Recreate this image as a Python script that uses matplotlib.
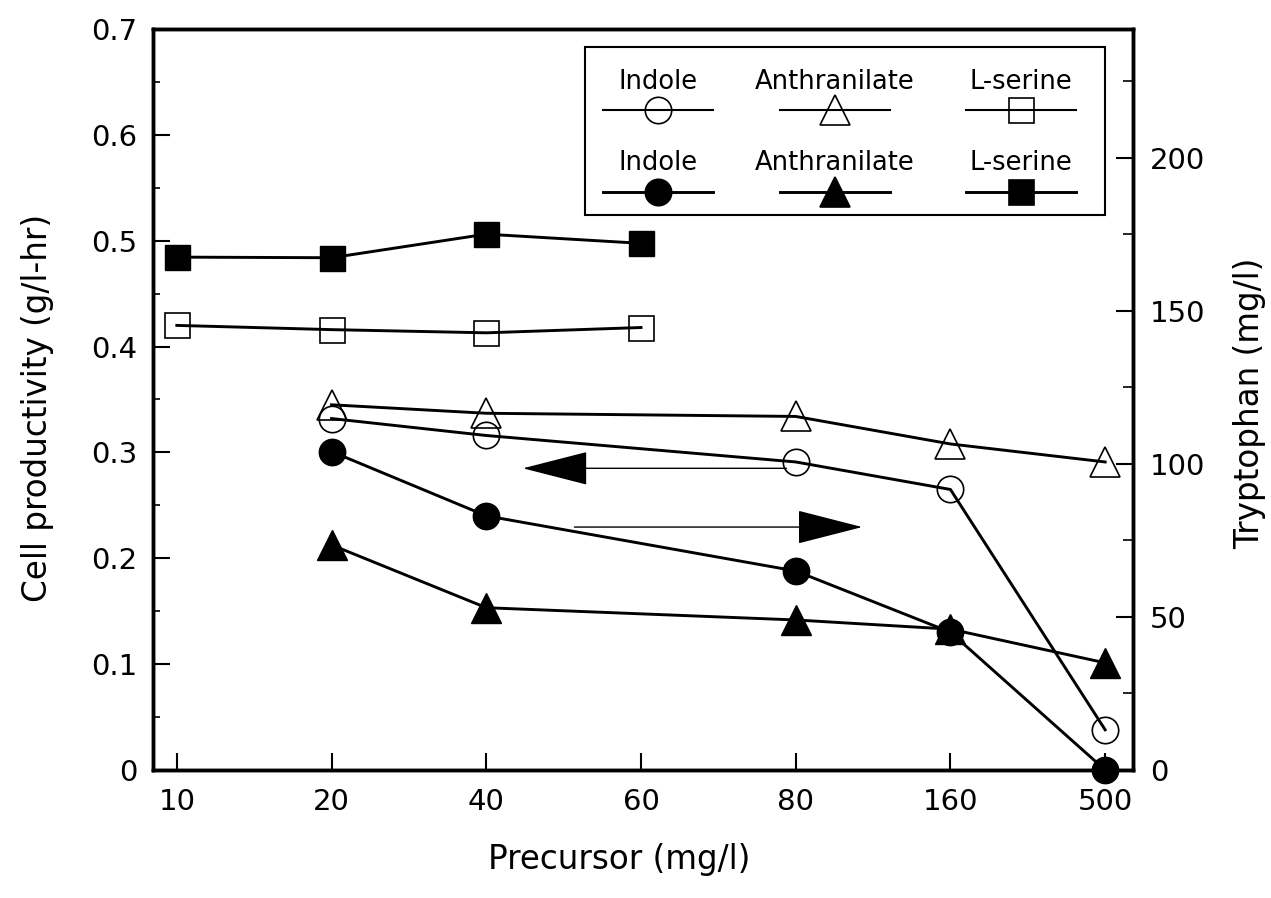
import matplotlib
matplotlib.use("Agg")
import matplotlib.pyplot as plt
from matplotlib.lines import Line2D
from matplotlib.patches import Rectangle
from matplotlib.ticker import MultipleLocator, FuncFormatter

# -- datos
x_labels = ["10", "20", "40", "60", "80", "160", "500"]

conc_ind_anth = ["20", "40", "80", "160", "500"]
conc_serine = ["10", "20", "40", "60"]

# productividad celular (g/l-hr) -> simbolos abiertos, eje izquierdo
indole_cell = [0.332, 0.316, 0.291, 0.265, 0.038]
anthranilate_cell = [0.345, 0.337, 0.334, 0.308, 0.291]
serine_cell = [0.420, 0.416, 0.413, 0.418]

# triptofano (mg/l) -> simbolos llenos, eje derecho
indole_trp = [104, 83, 65, 45, 0]
anthranilate_trp = [73.5, 53, 49, 46, 35]
serine_trp = [167.5, 167.3, 175, 172]

W, H = 1271, 898


def fx(px):
    return px / W


def fy(py):
    return 1 - py / H


plt.rcParams['font.family'] = ['DejaVu Sans']

fig = plt.figure(figsize=(W / 100, H / 100), dpi=100)
ax = fig.add_axes([fx(153), fy(770), fx(1133) - fx(153), fy(29) - fy(770)])
ax2 = ax.twinx()

pos = {lab: i for i, lab in enumerate(x_labels)}
x_ia = [pos[c] for c in conc_ind_anth]
x_se = [pos[c] for c in conc_serine]

lw = 2.1
# abiertos
ax.plot(x_ia, indole_cell, color='black', lw=lw, marker='o', ms=19, mfc='none', mec='black', mew=1.2, clip_on=False)
ax.plot(x_ia, anthranilate_cell, color='black', lw=lw, marker='^', ms=22, mfc='none', mec='black', mew=1.2, clip_on=False)
ax.plot(x_se, serine_cell, color='black', lw=lw, marker='s', ms=18, mfc='none', mec='black', mew=1.2, clip_on=False)
# llenos
ax2.plot(x_ia, indole_trp, color='black', lw=lw, marker='o', ms=19, mfc='black', mec='black', clip_on=False)
ax2.plot(x_ia, anthranilate_trp, color='black', lw=lw, marker='^', ms=22, mfc='black', mec='black', clip_on=False)
ax2.plot(x_se, serine_trp, color='black', lw=lw, marker='s', ms=18, mfc='black', mec='black', clip_on=False)

ax.set_xlim(-0.154, 6.18)
ax.set_ylim(0, 0.7)
ax2.set_ylim(0, 242)

ax.set_xticks(range(len(x_labels)))
ax.set_xticklabels(x_labels)
ax.yaxis.set_major_locator(MultipleLocator(0.1))
ax.yaxis.set_minor_locator(MultipleLocator(0.05))
ax.yaxis.set_major_formatter(FuncFormatter(lambda v, p: "0" if abs(v) < 1e-9 else f"{v:.1f}"))
ax2.yaxis.set_major_locator(MultipleLocator(50))
ax2.yaxis.set_minor_locator(MultipleLocator(25))

ax.tick_params(axis='x', which='major', direction='in', length=12, width=1.5, labelsize=21, pad=13, top=False)
ax.tick_params(axis='y', which='major', direction='in', length=12, width=1.5, labelsize=21, pad=11, right=False)
ax.tick_params(axis='y', which='minor', direction='in', length=5, width=1.2, right=False)
ax2.tick_params(axis='y', which='major', direction='in', length=12, width=1.5, labelsize=21, pad=12)
ax2.tick_params(axis='y', which='minor', direction='in', length=7, width=1.2)

for a in (ax, ax2):
    for s in a.spines.values():
        s.set_linewidth(2.5)

# flechas indicando el eje
ax.annotate('', xy=(2.237, 0.285), xytext=(3.94, 0.285),
            arrowprops=dict(arrowstyle='-|>,head_length=4.3,head_width=1.1', mutation_scale=10,
                            lw=1.0, color='black', shrinkA=0, shrinkB=0))
ax.annotate('', xy=(4.43, 0.2295), xytext=(2.57, 0.2295),
            arrowprops=dict(arrowstyle='-|>,head_length=4.3,head_width=1.1', mutation_scale=10,
                            lw=1.0, color='black', shrinkA=0, shrinkB=0))

# etiquetas de ejes
fig.text(fx(38), fy(408), 'Cell productivity (g/l-hr)', rotation=90, ha='center', va='center', fontsize=23.5)
fig.text(fx(1250), fy(403), 'Tryptophan (mg/l)', rotation=90, ha='center', va='center', fontsize=23.5)
fig.text(fx(619), fy(860), 'Precursor (mg/l)', ha='center', va='center', fontsize=23.5)

# leyenda hecha a mano (texto arriba, muestra abajo)
fig.patches.append(Rectangle((fx(585), fy(215)), fx(1105) - fx(585), fy(47) - fy(215),
                             transform=fig.transFigure, fill=True, facecolor='white',
                             edgecolor='black', lw=1.5, zorder=5))
nombres = ['Indole', 'Anthranilate', 'L-serine']
marcadores = [('o', 19), ('^', 22), ('s', 18)]
col_x = [658, 835, 1021]
filas = [(82, 110, 'none', 1.5), (163, 192, 'black', 2.1)]
for ty, ly, cara, grosor in filas:
    for nom, (mk, tam), cx in zip(nombres, marcadores, col_x):
        fig.text(fx(cx), fy(ty), nom, ha='center', va='center', fontsize=18.5, zorder=6)
        fig.lines.append(Line2D([fx(cx - 55), fx(cx + 55)], [fy(ly), fy(ly)], transform=fig.transFigure,
                                color='black', lw=grosor, zorder=6))
        fig.lines.append(Line2D([fx(cx)], [fy(ly)], transform=fig.transFigure, marker=mk, ms=tam,
                                mfc=cara, mec='black', mew=1.2, ls='none', zorder=7))

plt.savefig('out.png', dpi=100)
